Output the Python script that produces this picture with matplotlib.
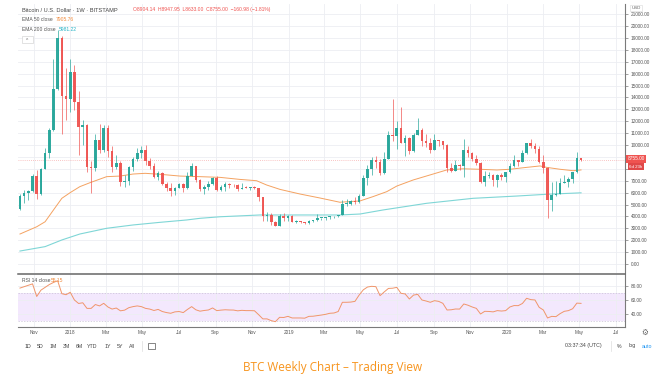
import datetime as dt
import matplotlib
matplotlib.use("Agg")
import matplotlib.pyplot as plt
import matplotlib.dates as mdates
import matplotlib.transforms as mtransforms
from matplotlib.patches import Rectangle

# ---------------- data (weekly BTC/USD, Bitstamp) ----------------
start_date = dt.date(2017, 10, 9)

opens = [4620, 5690, 5990, 6130, 7360, 5860, 8010, 9300, 11230, 14700,
         18950, 14100, 13850, 16150, 13650, 11500, 11700, 8150, 8070, 10400,
         9600, 11400, 9500, 8150, 8500, 6850, 7000, 8150, 8800, 9300,
         9550, 8650, 8200, 7350, 7650, 6750, 6350, 6100, 6380, 6700,
         6400, 7400, 8200, 7050, 6300, 6480, 6700, 7250, 6250, 6500,
         6700, 6620, 6600, 6300, 6420, 6400, 6480, 6350, 5600, 4000,
         4150, 3500, 3220, 4000, 3850, 4050, 3550, 3550, 3530, 3420,
         3650, 3680, 3850, 3860, 3920, 4000, 4000, 4100, 5050, 5080,
         5300, 5200, 5750, 7250, 8000, 8700, 8550, 7650, 8850, 10800,
         10750, 11450, 10200, 10550, 9500, 10800, 11300, 10300, 10150, 9600,
         10400, 10300, 10000, 8050, 7850, 8300, 8200, 9550, 9300, 8800,
         8500, 6900, 7400, 7500, 7100, 7500, 7300, 7750, 8200, 8700,
         8600, 9350, 10150, 9900, 9650, 8550, 8050, 5350, 5800, 5900,
         6800, 6900, 7150, 7700, 8904.14]
highs = [5860, 6180, 6200, 7600, 7880, 8100, 9760, 11400, 17200, 19670,
         19150, 16500, 17250, 16700, 14500, 12100, 11800, 8650, 10950, 11800,
         11700, 11700, 9900, 9150, 8650, 7450, 8250, 8950, 9750, 9950,
         9990, 8880, 8450, 7780, 7750, 6880, 6820, 6430, 6800, 6800,
         7700, 8500, 8250, 7150, 6600, 6950, 7280, 7420, 6600, 6850,
         6800, 6700, 6750, 6800, 6540, 6500, 6580, 6400, 5650, 4400,
         4300, 3600, 4200, 4250, 4100, 4100, 3700, 3620, 3550, 3700,
         3700, 4200, 3900, 3930, 4000, 4070, 4150, 5350, 5450, 5400,
         5650, 5900, 7500, 8350, 8950, 9100, 8800, 9400, 11200, 13880,
         12000, 13200, 10800, 10650, 11000, 12300, 11450, 10950, 10600, 10900,
         10450, 10300, 10050, 8500, 8700, 8400, 10500, 9950, 9450, 9150,
         8550, 7850, 7750, 7600, 7550, 7650, 7550, 8450, 9200, 8750,
         9600, 10150, 10500, 10200, 9950, 9200, 8150, 6900, 6950, 7200,
         7450, 7300, 7750, 9450, 8947.95]
lows = [4560, 5100, 5380, 6030, 5500, 5830, 8000, 8900, 11200, 14600,
        10900, 12100, 12750, 12900, 9200, 10000, 7700, 6000, 7850, 9300,
        9400, 9000, 7700, 7950, 6550, 6500, 6650, 7850, 8650, 8900,
        8350, 7950, 7250, 7050, 6600, 6150, 5750, 5800, 6350, 6080,
        6300, 7400, 6900, 6100, 5850, 6250, 6650, 6150, 6150, 6100,
        6400, 6450, 6150, 6300, 6350, 6220, 6330, 5300, 3600, 3600,
        3300, 3200, 3200, 3600, 3650, 3550, 3450, 3450, 3380, 3350,
        3550, 3650, 3700, 3670, 3800, 3880, 3920, 4100, 4900, 5000,
        5050, 5150, 5700, 6600, 7500, 8050, 7450, 7550, 8850, 10300,
        9700, 10200, 9100, 9250, 9400, 10800, 9900, 9800, 9350, 9550,
        9900, 9650, 7750, 7750, 7800, 7900, 7300, 8950, 8650, 8350,
        6800, 6550, 7200, 6550, 6450, 7100, 6850, 7650, 8150, 8250,
        8550, 9250, 9750, 9300, 8450, 7650, 3850, 4450, 5700, 5850,
        6800, 6450, 6800, 7650, 8633.00]
closes = [5690, 5990, 6130, 7360, 5860, 8010, 9300, 11230, 14700, 18950,
          14100, 13850, 16150, 13650, 11500, 11700, 8150, 8070, 10400, 9600,
          11400, 9500, 8150, 8500, 6850, 7000, 8150, 8800, 9300, 9550,
          8650, 8200, 7350, 7650, 6750, 6350, 6100, 6380, 6700, 6400,
          7400, 8200, 7050, 6300, 6480, 6700, 7250, 6250, 6500, 6700,
          6620, 6600, 6300, 6420, 6400, 6480, 6350, 5600, 4000, 4150,
          3500, 3220, 4000, 3850, 4050, 3550, 3550, 3530, 3420, 3650,
          3680, 3850, 3860, 3920, 4000, 4000, 4100, 5050, 5080, 5300,
          5200, 5750, 7250, 8000, 8700, 8550, 7650, 8850, 10800, 10750,
          11450, 10200, 10550, 9500, 10800, 11300, 10300, 10150, 9600, 10400,
          10300, 10000, 8050, 7850, 8300, 8200, 9550, 9300, 8800, 8500,
          6900, 7400, 7500, 7100, 7500, 7300, 7750, 8200, 8700, 8600,
          9350, 10150, 9900, 9650, 8550, 8050, 5350, 5800, 5900, 6800,
          6900, 7150, 7700, 8900, 8755.00]

rsi = [77, 79, 81, 83, 65, 74, 78, 82, 85, 87.5,
       69, 67.5, 71, 60, 55, 56, 48, 48, 53.5, 51.5,
       55.2, 50, 47, 48.5, 44.5, 45.5, 49, 50.5, 51.5, 50.5,
       48, 47, 45, 46.5, 43.5, 42, 41, 43, 43.5, 42,
       46.5, 50.5, 46, 44, 45, 45.7, 48.6, 44.8, 45.5, 46,
       45.7, 45.6, 44.5, 45.2, 44.8, 44.8, 44.6, 39, 33, 33,
       30.5, 29, 35.2, 35, 36.6, 34.3, 34.3, 34.3, 34, 36.6,
       36.8, 37.6, 38.5, 39.5, 41, 41.4, 43.5, 56.7, 56.7, 57,
       58, 67, 74.5, 78.5, 79.5, 79, 66.2, 71.5, 76.5, 76.8,
       78, 69.5, 68.6, 61.4, 67, 68, 60, 58.5, 56.7, 59,
       58, 55.2, 45.7, 46, 47.1, 47, 54.3, 52.5, 50, 48,
       40, 43.8, 43.6, 43, 44.8, 44.2, 44.8, 50, 52, 51.9,
       55, 62.4, 60.5, 60, 49.5, 45.7, 34.3, 36.6, 36.2, 40.5,
       43.8, 44.8, 47.5, 55.5, 55.15]

ema50_week = [0, 4, 6, 8, 10, 12, 14.3, 16.7, 20.7, 23.9, 27, 29.9, 33.4, 38.2,
              43, 47.8, 52.5, 56.5, 58.9, 62.1, 66.9, 71.6, 76.4, 81.2, 84.3,
              87.6, 90, 93.9, 97.9, 101.9, 105.8, 109.9, 113.9, 117, 121,
              124.2, 125.8, 129, 132.1, 134]
ema50 = [2520, 3130, 3550, 4540, 5520, 6000, 6500, 6830, 7340, 7390, 7560, 7620,
         7540, 7390, 7340, 7280, 7110, 7000, 6640, 6270, 5880, 5550, 5190, 5300,
         5660, 6080, 6550, 7060, 7480, 7900, 8000, 7960, 7900, 7960, 8120, 8240,
         8120, 7960, 7840, 7905.76]
ema200_week = [0, 6, 10, 14.3, 20.7, 27, 33.4, 39.8, 43, 47.8, 57.3, 66.9, 76.4,
               81.2, 86.7, 97.1, 108.2, 118.6, 125.8, 134]
ema200 = [1090, 1460, 2020, 2520, 3000, 3280, 3500, 3700, 3840, 3970, 4120, 4120,
          4120, 4200, 4540, 5100, 5520, 5710, 5860, 5981.22]

month_ticks = ["2017-11-01", "2018-01-01", "2018-03-01", "2018-05-01", "2018-07-01",
               "2018-09-01", "2018-11-01", "2019-01-01", "2019-03-01", "2019-05-01",
               "2019-07-01", "2019-09-01", "2019-11-01", "2020-01-01", "2020-03-01",
               "2020-05-01", "2020-07-01"]
month_labels = ["Nov", "2018", "Mar", "May", "Jul", "Sep", "Nov", "2019", "Mar",
                "May", "Jul", "Sep", "Nov", "2020", "Mar", "May", "Jul"]
price_ticks = list(range(0, 22000, 1000))
hidden_price_ticks = [8000, 9000]  # covered by the last-price marker
rsi_ticks = [40, 60, 80]
range_buttons = ["1D", "5D", "1M", "3M", "6M", "YTD", "1Y", "5Y", "All"]

# ---------------- styling ----------------
W, H = 659, 376
GREEN = "#26a69a"
RED = "#ef5350"
GRID = "#eceef2"
AX = "#7a7a7a"
TXT = "#555555"
FONT = ["Liberation Sans", "DejaVu Sans"]
plt.rcParams["font.family"] = FONT

fig = plt.figure(figsize=(W / 100, H / 100), dpi=100)
fig.patch.set_facecolor("white")


def box(l, t, r, b):
    return [l / W, 1 - b / H, (r - l) / W, (b - t) / H]


def ftext(x, y, s, **kw):
    kw.setdefault("va", "center")
    kw.setdefault("ha", "left")
    return fig.text(x / W, 1 - y / H, s, **kw)


ax = fig.add_axes(box(18, 4, 625, 273))
axr = fig.add_axes(box(18, 274, 625, 327), sharex=ax)

base = mdates.date2num(start_date)
xs = [base + 7 * i for i in range(len(closes))]

# candles
for x, o, h, l, c in zip(xs, opens, highs, lows, closes):
    col = GREEN if c >= o else RED
    ax.vlines(x, l, h, color=col, lw=0.6, alpha=0.8, zorder=3)
    ax.bar(x, max(abs(c - o), 60), bottom=min(o, c), width=4.4, color=col,
           alpha=0.95, linewidth=0, zorder=4)

# EMAs
ax.plot([base + 7 * w for w in ema50_week], ema50, color="#f4a261", lw=0.7, zorder=2)
ax.plot([base + 7 * w for w in ema200_week], ema200, color="#7fd6d6", lw=0.8, zorder=2)

# last price dotted line
ax.axhline(closes[-1], color=RED, lw=0.6, ls=(0, (1, 1.5)), alpha=0.45, zorder=1)

ax.set_xlim(base - 3.3, base + 1011.5)
ax.set_ylim(-756, 21849)
ax.set_yticks(price_ticks)
ax.set_yticklabels(["" if v in hidden_price_ticks else f"{v:.2f}" for v in price_ticks])
ax.yaxis.tick_right()
ax.tick_params(axis="y", length=2.5, width=0.5, color=AX, labelsize=3.4,
               labelcolor=TXT, pad=1.5)
tick_nums = [mdates.date2num(dt.date.fromisoformat(d)) for d in month_ticks]
ax.set_xticks(tick_nums)
ax.tick_params(axis="x", length=0, labelbottom=False)
ax.grid(True, color=GRID, lw=0.6)
ax.set_axisbelow(True)
for s in ["top", "left", "bottom"]:
    ax.spines[s].set_visible(False)
ax.spines["right"].set_color(AX)
ax.spines["right"].set_linewidth(0.8)

# price axis labels
bt = mtransforms.blended_transform_factory(ax.transAxes, ax.transData)
ax.text(1.004, closes[-1] + 80, f"{closes[-1]:.2f}", transform=bt, fontsize=3.4,
        color="white", va="center", ha="left", zorder=10, clip_on=False,
        bbox=dict(boxstyle="square,pad=0.35", fc=RED, ec="none"))
ax.text(1.007, closes[-1] - 580, "6d 23h", transform=bt, fontsize=3.2,
        color="white", va="center", ha="left", zorder=10, clip_on=False,
        bbox=dict(boxstyle="square,pad=0.3", fc="#e04848", ec="none"))

# RSI panel
axr.axhspan(30, 70, color="#f3e8fd", lw=0, zorder=0)
axr.axhline(70, color="#c9c1d6", lw=0.5, ls=(0, (2, 2)), zorder=1)
axr.axhline(30, color="#c9c1d6", lw=0.5, ls=(0, (2, 2)), zorder=1)
axr.plot(xs, rsi, color="#f0956a", lw=0.7, zorder=3)
axr.set_ylim(21.4, 97.1)
axr.set_yticks(rsi_ticks)
axr.set_yticklabels([f"{v:.2f}" for v in rsi_ticks])
axr.yaxis.tick_right()
axr.tick_params(axis="y", length=2.5, width=0.5, color=AX, labelsize=3.4,
                labelcolor=TXT, pad=1.5)
axr.set_xticks(tick_nums)
axr.set_xticklabels(month_labels)
axr.tick_params(axis="x", length=0, labelsize=3.4, labelcolor=TXT, pad=2.2)
axr.grid(True, color=GRID, lw=0.6)
axr.set_axisbelow(True)
axr.spines["left"].set_visible(False)
axr.spines["top"].set_color("#666666")
axr.spines["top"].set_linewidth(1.1)
for s in ["bottom", "right"]:
    axr.spines[s].set_color(AX)
    axr.spines[s].set_linewidth(0.8)

# header texts
ftext(22, 10, "Bitcoin / U.S. Dollar · 1W · BITSTAMP", fontsize=4.1, color="#444444")
ftext(133, 10, "O8904.14  H8947.95  L8633.00  C8755.00  \u2212160.98 (\u22121.81%)",
      fontsize=3.6, color=RED)
ftext(22, 19.7, "EMA 50 close", fontsize=3.6, color="#555555")
ftext(56, 19.7, "7905.76", fontsize=3.6, color="#f08a3c")
ftext(22, 29.7, "EMA 200 close", fontsize=3.6, color="#555555")
ftext(59, 29.7, "5981.22", fontsize=3.6, color="#26b3c6")
fig.patches.append(Rectangle((22 / W, 1 - 43 / H), 11 / W, 7 / H, transform=fig.transFigure,
                             fc="white", ec="#cccccc", lw=0.4))
ftext(27.5, 40, "^", fontsize=3.5, color="#666666", ha="center")
ftext(22, 280, "RSI 14 close", fontsize=3.6, color="#555555")
ftext(51, 280, "55.15", fontsize=3.6, color="#f08a3c")
ftext(636, 8, "USD", fontsize=3.2, color="#666666", ha="center",
      bbox=dict(boxstyle="square,pad=0.3", fc="white", ec="#d8d8d8", lw=0.4))

# bottom-right gear
ftext(645, 332, "\u2699", fontsize=5.5, color="#666666", ha="center",
      family="DejaVu Sans")

# toolbar
btn_x = [27.5, 40, 53, 66, 79, 92, 108, 120, 132]
for bx, s in zip(btn_x, range_buttons):
    ftext(bx, 346, s, fontsize=3.8, color="#444444", ha="center")
fig.add_artist(plt.Line2D([142 / W, 142 / W], [1 - 341 / H, 1 - 351 / H],
                          transform=fig.transFigure, color="#dddddd", lw=0.5))
fig.patches.append(Rectangle((148 / W, 1 - 349 / H), 7 / W, 6 / H, transform=fig.transFigure,
                             fc="none", ec="#555555", lw=0.5))
ftext(583, 346, "03:37:34 (UTC)", fontsize=3.8, color="#444444", ha="center")
fig.add_artist(plt.Line2D([611 / W, 611 / W], [1 - 341 / H, 1 - 351 / H],
                          transform=fig.transFigure, color="#dddddd", lw=0.5))
ftext(619, 346, "%", fontsize=3.8, color="#444444", ha="center")
ftext(632, 346, "log", fontsize=3.8, color="#444444", ha="center")
ftext(647, 346, "auto", fontsize=3.8, color="#2196f3", ha="center")

# caption
ftext(333, 368, "BTC Weekly Chart \u2013 Trading View", fontsize=8.5, color="#f7941d",
      ha="center", family=["Open Sans", "DejaVu Sans"])

fig.savefig("out.png", dpi=100, facecolor="white")
